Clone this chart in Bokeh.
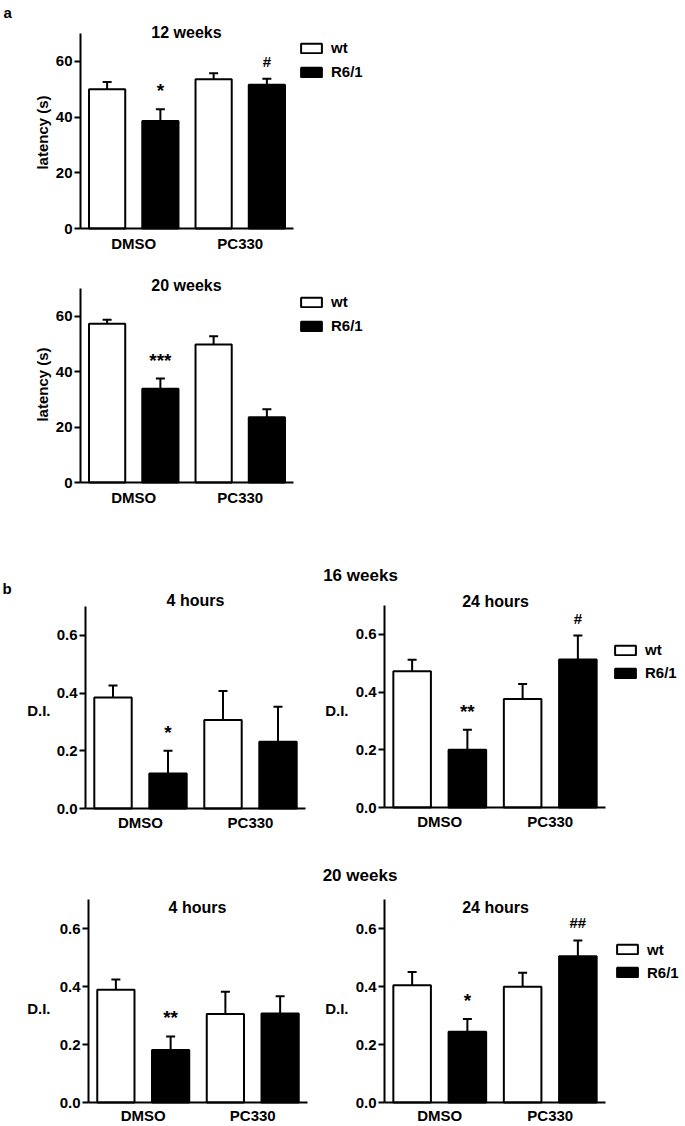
import math
from bokeh.plotting import figure
from bokeh.models import (Range1d, FixedTicker, PrintfTickFormatter, Whisker, TeeHead,
                          ColumnDataSource, LabelSet, Label, Legend, LegendItem)
from bokeh.layouts import column, row
from bokeh.embed import file_html
from bokeh.resources import INLINE
from bokeh.core.properties import value, field

FONT = "Liberation Sans"

# ---------------- data ----------------
treatments = ["DMSO", "PC330"]
genotypes = ["wt", "R6/1"]
fills = ["white", "black"]
# order of every series: wt-DMSO, R6/1-DMSO, wt-PC330, R6/1-PC330
lat12_mean = [50.0, 38.6, 53.6, 51.6]
lat12_sem = [2.6, 4.2, 2.1, 2.2]
lat12_sig = ["", "*", "", "#"]

lat20_mean = [57.3, 33.8, 49.8, 23.5]
lat20_sem = [1.4, 3.7, 3.0, 2.9]
lat20_sig = ["", "***", "", ""]

di16_4h_mean = [0.385, 0.121, 0.307, 0.231]
di16_4h_sem = [0.041, 0.079, 0.100, 0.122]
di16_4h_sig = ["", "*", "", ""]

di16_24h_mean = [0.472, 0.200, 0.376, 0.513]
di16_24h_sem = [0.040, 0.069, 0.052, 0.083]
di16_24h_sig = ["", "**", "", "#"]

di20_4h_mean = [0.389, 0.181, 0.305, 0.307]
di20_4h_sem = [0.035, 0.047, 0.077, 0.059]
di20_4h_sig = ["", "**", "", ""]

di20_24h_mean = [0.404, 0.244, 0.399, 0.504]
di20_24h_sem = [0.046, 0.044, 0.048, 0.055]
di20_24h_sig = ["", "*", "", "##"]

lat_ticks = [0, 20, 40, 60]
di_ticks = [0.0, 0.2, 0.4, 0.6]
lat_max = 70
di_max = 0.7


def txt(size="15px", **kw):
    base = dict(text_font=FONT, text_font_size=size, text_font_style="bold", text_color="black")
    base.update(kw)
    return Label(**base)


class Panel:
    """One bar chart whose frame fills its whole canvas; both axes sit at fixed
    data locations inside it.  Geometry arguments are in page pixels."""

    def __init__(self, mean, sem, sig, ymax, ticks, fmt, box, axes, xstandoff, spacing=7):
        X0, Y0, w, h = box
        ax0, ax1, yb, yt = axes
        self.X0, self.Y0, self.w, self.h = X0, Y0, w, h
        self.ax0, self.ax1, self.yb, self.yt = ax0, ax1, yb, yt
        ng = len(genotypes)
        nx = len(treatments) * ng
        self.nx, self.ymax = nx, ymax
        pux = (ax1 - ax0) / nx
        puy = (yb - yt) / ymax
        p = figure(width=w, height=h,
                   x_range=Range1d(-(ax0 - X0) / pux, (X0 + w - ax0) / pux),
                   y_range=Range1d(-(Y0 + h - yb) / puy, (yb - Y0) / puy),
                   output_backend="svg", toolbar_location=None, min_border=0)
        p.outline_line_color = None
        p.grid.visible = False
        p.background_fill_color = "white"
        p.border_fill_color = "white"
        self.p = p

        renderers = []
        for gi, g in enumerate(genotypes):
            gx, gt = [], []
            for ti, t in enumerate(treatments):
                gx.append(ti * ng + gi + 0.5)
                gt.append(mean[ti * ng + gi])
            r = p.vbar(x=gx, top=gt, bottom=0, width=0.68, fill_color=fills[gi],
                       line_color="black", line_width=2)
            renderers.append(r)
        self.renderers = renderers
        xs, tops, uppers = [], [], []
        for ti, t in enumerate(treatments):
            for gi, g in enumerate(genotypes):
                k = ti * ng + gi
                xs.append(ti * ng + gi + 0.5)
                tops.append(mean[k])
                uppers.append(mean[k] + sem[k])
        # asterisks are set a little larger than the hash marks, as in the original
        sizes = ["19px" if "*" in s else "15px" for s in sig]
        src = ColumnDataSource(dict(x=xs, top=tops, upper=uppers, sig=sig, size=sizes))
        p.add_layout(Whisker(source=src, base="x", lower="top", upper="upper",
                             dimension="height", line_width=2, line_color="black",
                             lower_head=None,
                             upper_head=TeeHead(size=9, line_width=2, line_color="black")))
        p.add_layout(LabelSet(source=src, x="x", y="upper", text="sig", y_offset=12,
                              text_align="center", text_baseline="alphabetic",
                              text_font=value(FONT), text_font_size=field("size"),
                              text_font_style=value("bold"), text_color="black"))

        for ax in p.axis:
            ax.fixed_location = 0
            ax.axis_line_width = 2
            ax.axis_line_color = "black"
            ax.major_label_text_font = FONT
            ax.major_label_text_font_size = "15px"
            ax.major_label_text_font_style = "bold"
            ax.major_label_text_color = "black"
            ax.minor_tick_line_color = None
        p.yaxis.bounds = (0, ymax)
        p.yaxis.ticker = FixedTicker(ticks=ticks)
        p.yaxis.formatter = PrintfTickFormatter(format=fmt)
        p.yaxis.major_tick_line_width = 2
        p.yaxis.major_tick_line_color = "black"
        p.yaxis.major_tick_in = 0
        p.yaxis.major_tick_out = 6
        p.yaxis.major_label_standoff = 2
        xt = [ti * ng + ng / 2 for ti in range(len(treatments))]
        p.xaxis.bounds = (0, nx)
        p.xaxis.ticker = FixedTicker(ticks=xt)
        p.xaxis.major_label_overrides = {x: t for x, t in zip(xt, treatments)}
        p.xaxis.major_tick_line_color = None
        p.xaxis.major_tick_in = 0
        p.xaxis.major_tick_out = 0
        p.xaxis.major_label_standoff = xstandoff
        self.spacing = spacing

    # text placed at a page position (screen units of this canvas)
    def page_text(self, px, py, text, align="left", size="15px"):
        self.p.add_layout(txt(size=size, x=px - self.X0, y=self.Y0 + self.h - py,
                              x_units="screen", y_units="screen", text=text,
                              text_align=align, text_baseline="alphabetic"))

    def title(self, text, cx, baseline):
        center = (self.ax0 + self.ax1) / 2
        self.p.add_layout(txt(size="16px", x=self.nx / 2, y=self.ymax, x_offset=cx - center,
                              y_offset=self.yt - baseline, text=text, text_align="center",
                              text_baseline="alphabetic"))

    def ylabel(self, text, right=None, cx=None, cy=None):
        mid = (self.yb + self.yt) / 2
        if right is not None:
            self.p.add_layout(txt(x=0, y=self.ymax / 2, x_offset=right - self.ax0,
                                  y_offset=mid - cy, text=text, text_align="right",
                                  text_baseline="middle"))
        else:
            self.p.add_layout(txt(x=0, y=self.ymax / 2, x_offset=cx - self.ax0,
                                  y_offset=mid - cy, text=text, text_align="center",
                                  text_baseline="middle", angle=math.pi / 2))

    def legend(self, left, top_box):
        # left: page x of the legend glyph area, top_box: page y of first box top
        H = 2 * 17 + self.spacing
        bottom = top_box - 2.7 + H
        leg = Legend(items=[LegendItem(label=g, renderers=[r])
                            for g, r in zip(genotypes, self.renderers)],
                     location=(left - self.X0, self.Y0 + self.h - bottom),
                     orientation="vertical", padding=0, margin=0,
                     spacing=self.spacing, glyph_width=26, glyph_height=12, label_height=12,
                     label_standoff=7, label_text_font=FONT, label_text_font_size="15px",
                     label_text_font_style="bold", label_text_color="black",
                     border_line_color=None, background_fill_alpha=0)
        self.p.add_layout(leg)


W = 684
# ---- panel a ----
a1 = Panel(lat12_mean, lat12_sem, lat12_sig, lat_max, lat_ticks, "%d",
           (0, 0, W, 258), (80, 293, 228, 33), 6)
a1.page_text(3, 12, "a")
a1.title("12 weeks", 186, 31.7)
a1.ylabel("latency (s)", cx=41.5, cy=132)
a1.legend(298, 41.7)

a2 = Panel(lat20_mean, lat20_sem, lat20_sig, lat_max, lat_ticks, "%d",
           (0, 258, W, 257), (80, 293, 482, 288), 6)
a2.title("20 weeks", 186, 285)
a2.ylabel("latency (s)", cx=41.5, cy=384)
a2.legend(298, 295.7)

# ---- panel b, 16 weeks ----
b1l = Panel(di16_4h_mean, di16_4h_sem, di16_4h_sig, di_max, di_ticks, "%.1f",
            (0, 515, 316, 315), (85, 305, 808, 606), 5)
b1l.page_text(2, 588, "b")
b1l.title("4 hours", 195, 600)
b1l.ylabel("D.I.", right=50, cy=710)

b1r = Panel(di16_24h_mean, di16_24h_sem, di16_24h_sig, di_max, di_ticks, "%.1f",
            (316, 515, W - 316, 315), (384, 605, 807, 605), 5, spacing=6)
b1r.page_text(360, 575, "16 weeks", align="center", size="17px")
b1r.title("24 hours", 495, 601)
b1r.ylabel("D.I.", right=348, cy=710)
b1r.legend(612, 644)

# ---- panel b, 20 weeks ----
b2l = Panel(di20_4h_mean, di20_4h_sem, di20_4h_sig, di_max, di_ticks, "%.1f",
            (0, 830, 316, 294), (88, 307, 1102, 899), 4)
b2l.title("4 hours", 197, 907)
b2l.ylabel("D.I.", right=50, cy=1008)

b2r = Panel(di20_24h_mean, di20_24h_sem, di20_24h_sig, di_max, di_ticks, "%.1f",
            (316, 830, W - 316, 294), (384, 605, 1102, 899), 4, spacing=6)
b2r.page_text(359.5, 875, "20 weeks", align="center", size="17px")
b2r.title("24 hours", 495, 907)
b2r.ylabel("D.I.", right=348, cy=1008)
b2r.legend(614, 943.3)

layout = column(a1.p, a2.p, row(b1l.p, b1r.p), row(b2l.p, b2r.p))
open("out.html", "w").write(file_html(layout, INLINE))
